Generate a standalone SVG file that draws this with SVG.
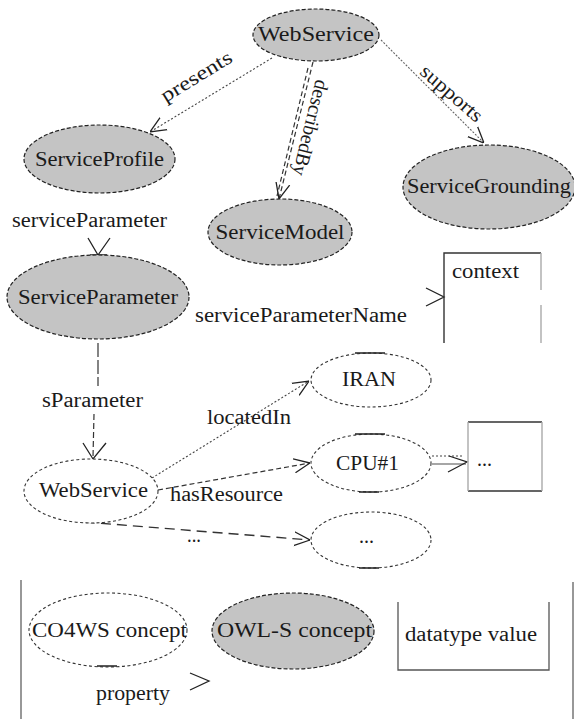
<svg xmlns="http://www.w3.org/2000/svg" width="574" height="719" viewBox="0 0 574 719">
<style>
text{font-family:"Times New Roman",Times,"Liberation Serif","Nimbus Roman","Nimbus Roman No9 L","DejaVu Serif","Noto Serif",serif;font-size:20px;fill:#1a1a1a}
.owl{fill:#c4c4c4;stroke:#222;stroke-width:1.2;stroke-dasharray:4 2}
.cw{fill:#fff;stroke:#333;stroke-width:1.1;stroke-dasharray:3 2.5}
.tick{stroke:#222;stroke-width:1.5;fill:none}
.arr{fill:none;stroke:#222;stroke-width:1.3}
.dot{fill:none;stroke:#444;stroke-width:1.1;stroke-dasharray:2 2}
.dash{fill:none;stroke:#333;stroke-width:1.2;stroke-dasharray:5 3}
.ln{stroke:#333;stroke-width:1.4;fill:none}
.lt{stroke:#aaa;stroke-width:1.4;fill:none}
</style>
<defs>
<marker id="v" viewBox="0 0 16 16" refX="16" refY="8" markerWidth="16" markerHeight="16" markerUnits="userSpaceOnUse" orient="auto">
<path d="M0,1 L16,8 L0,15" fill="none" stroke="#222" stroke-width="1.3"/>
</marker>
</defs>

<g id="connectors">
<path class="dot" d="M272,58 L150,132" marker-end="url(#v)"/>
<text transform="translate(196,76) rotate(-31.5)" text-anchor="middle" dominant-baseline="central" textLength="80" lengthAdjust="spacingAndGlyphs">presents</text>
<path class="dash" d="M313,62 L279,199" marker-end="url(#v)"/>
<path class="dash" d="M308,68 L277,196"/>
<text transform="translate(311,128) rotate(104)" text-anchor="middle" dominant-baseline="central" textLength="98" lengthAdjust="spacingAndGlyphs">describedBy</text>
<path fill="none" stroke="#666" stroke-width="1.1" stroke-dasharray="2 1.5" d="M381,40 L484,143" marker-end="url(#v)"/>
<text transform="translate(452,93) rotate(41)" text-anchor="middle" dominant-baseline="central" textLength="76" lengthAdjust="spacingAndGlyphs">supports</text>
<text x="12" y="227" textLength="155" lengthAdjust="spacingAndGlyphs">serviceParameter</text>
<path class="arr" d="M88,238 L98,255 L110,238"/>
<path class="tick" d="M90,255 L107,255"/>
<text x="195" y="322" textLength="212" lengthAdjust="spacingAndGlyphs">serviceParameterName</text>
<path class="arr" d="M426,288 L444,297 L426,306"/>
<path fill="none" stroke="#333" stroke-width="1.2" stroke-dasharray="14 3" d="M98,343 L98,386"/>
<path fill="none" stroke="#333" stroke-width="1.2" stroke-dasharray="6 3" d="M94,414 L93,457"/>
<path class="arr" d="M83,443 L93,459 L106,443"/>
<text x="42" y="407" textLength="101" lengthAdjust="spacingAndGlyphs">sParameter</text>
<path class="dot" d="M152,478 L309,381" marker-end="url(#v)"/>
<text x="207" y="424" textLength="84" lengthAdjust="spacingAndGlyphs">locatedIn</text>
<path class="dash" d="M158,490 L310,463" marker-end="url(#v)"/>
<text x="170" y="501" textLength="113" lengthAdjust="spacingAndGlyphs">hasResource</text>
<path fill="none" stroke="#333" stroke-width="1.4" stroke-dasharray="10 6" d="M85,522 L310,540" marker-end="url(#v)"/>
<text x="187" y="542" textLength="14" lengthAdjust="spacingAndGlyphs">...</text>
<path class="dot" d="M432,456 L462,456"/>
<path stroke="#888" stroke-width="1.4" d="M432,464 L466,464"/>
<path class="arr" d="M449,456 L467,462 L448,472"/>
<path class="arr" d="M190,673 L209,681 L190,690"/>
<text x="96" y="700" textLength="74" lengthAdjust="spacingAndGlyphs">property</text>
</g>

<g id="WebService">
<ellipse class="owl" cx="316" cy="35" rx="63" ry="26"/>
<text x="316" y="41" text-anchor="middle" textLength="116" lengthAdjust="spacingAndGlyphs">WebService</text>
</g>
<g id="ServiceProfile">
<ellipse class="owl" cx="99.5" cy="159" rx="75.5" ry="34"/>
<text x="99.5" y="166" text-anchor="middle" textLength="129" lengthAdjust="spacingAndGlyphs">ServiceProfile</text>
</g>
<g id="ServiceModel">
<ellipse class="owl" cx="280" cy="232" rx="72" ry="33"/>
<text x="280" y="239" text-anchor="middle" textLength="129" lengthAdjust="spacingAndGlyphs">ServiceModel</text>
</g>
<g id="ServiceGrounding">
<ellipse class="owl" cx="489" cy="187" rx="86" ry="42"/>
<text x="489" y="193" text-anchor="middle" textLength="164" lengthAdjust="spacingAndGlyphs">ServiceGrounding</text>
</g>
<g id="ServiceParameter">
<ellipse class="owl" cx="98" cy="297" rx="91" ry="42"/>
<text x="98" y="304" text-anchor="middle" textLength="160" lengthAdjust="spacingAndGlyphs">ServiceParameter</text>
</g>
<g id="context">
<path class="ln" d="M444,343 L444,253 L541,253"/>
<path class="lt" d="M541,253 L541,290 M541,305 L541,343"/>
<text x="452" y="278" textLength="67" lengthAdjust="spacingAndGlyphs">context</text>
</g>
<g id="WebService2">
<ellipse class="cw" cx="91" cy="491" rx="67" ry="32"/>
<text x="93.5" y="497" text-anchor="middle" textLength="109" lengthAdjust="spacingAndGlyphs">WebService</text>
</g>
<g id="IRAN">
<ellipse class="cw" cx="371" cy="380" rx="60" ry="27"/>
<path class="tick" d="M355,353 L385,353"/>
<text x="369" y="386" text-anchor="middle" textLength="54" lengthAdjust="spacingAndGlyphs">IRAN</text>
</g>
<g id="CPU1">
<ellipse class="cw" cx="371" cy="463" rx="60" ry="29"/>
<path class="tick" d="M355,434 L385,434 M359,492 L379,492"/>
<text x="367.5" y="470" text-anchor="middle" textLength="63" lengthAdjust="spacingAndGlyphs">CPU#1</text>
</g>
<g id="cpuvalue">
<path class="ln" d="M468,422 L542,422 M468,491 L542,491"/>
<path class="lt" d="M468,422 L468,491 M542,422 L542,491"/>
<text x="477" y="466" textLength="15" lengthAdjust="spacingAndGlyphs">...</text>
</g>
<g id="more">
<ellipse class="cw" cx="371" cy="540" rx="60" ry="28"/>
<path class="tick" d="M359,568 L379,568"/>
<text x="359" y="543" textLength="15" lengthAdjust="spacingAndGlyphs">...</text>
</g>

<g id="legend">
<path stroke="#777" stroke-width="1.5" fill="none" d="M21,580 L21,719 M573,582 L573,719"/>
</g>
<g id="CO4WS">
<ellipse class="cw" cx="108" cy="630" rx="79" ry="37"/>
<path class="tick" d="M97,666 L117,666"/>
<text x="32" y="637" textLength="155" lengthAdjust="spacingAndGlyphs">CO4WS concept</text>
</g>
<g id="OWLS">
<ellipse class="owl" cx="293" cy="631" rx="81" ry="38"/>
<text x="217" y="637" textLength="155" lengthAdjust="spacingAndGlyphs">OWL-S concept</text>
</g>
<g id="datatype">
<path stroke="#555" stroke-width="1.3" fill="none" d="M398,602 L398,670 L549,670 L549,602"/>
<text x="405" y="641" textLength="132" lengthAdjust="spacingAndGlyphs">datatype value</text>
</g>
</svg>
